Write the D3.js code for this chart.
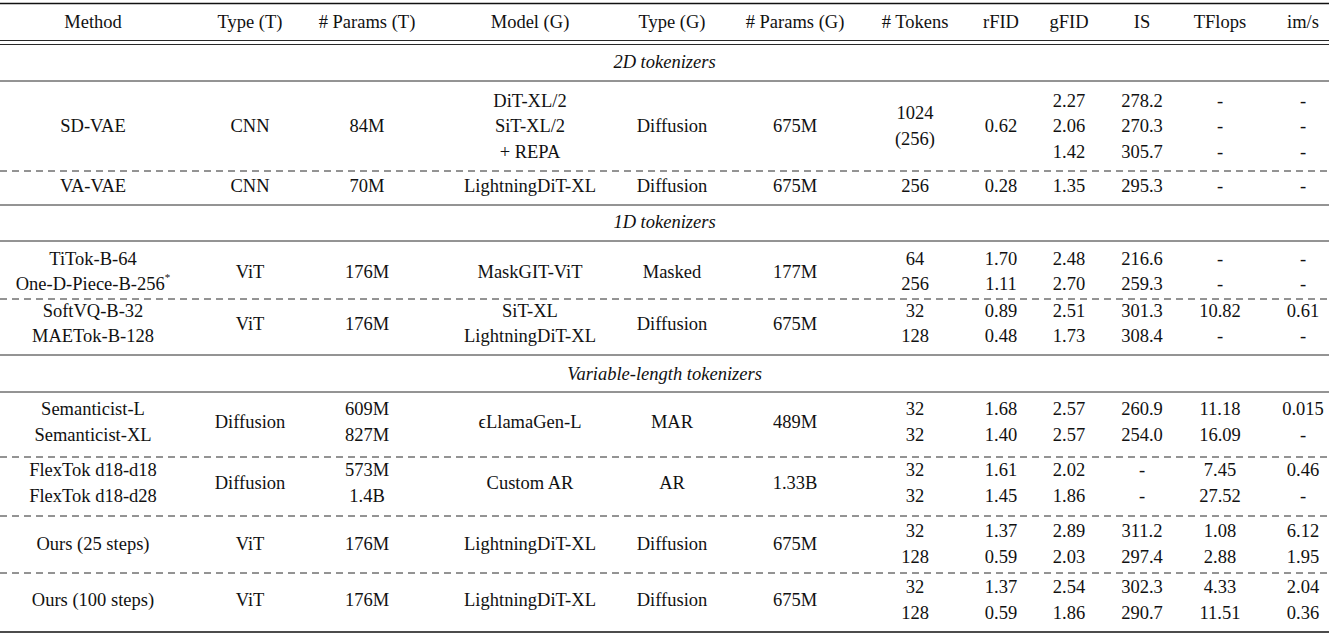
<!DOCTYPE html>
<html><head><meta charset="utf-8">
<script src="https://cdn.jsdelivr.net/npm/d3@7.9.0/dist/d3.min.js"></script>
<style>body{margin:0;background:#fff}text{font-family:"Liberation Serif","DejaVu Serif",serif;font-size:18.5px;fill:#111}</style>
</head><body><svg id="t" width="1329" height="635"></svg>
<script>
const headers = ['Method','Type (T)','# Params (T)','Model (G)','Type (G)','# Params (G)','# Tokens','rFID','gFID','IS','TFlops','im/s'];
const colX = [93,250,367,530,672,795,915,1001,1069,1142,1220,1303];

const sections = ['2D tokenizers','1D tokenizers','Variable-length tokenizers'];

// each group: one list of lines per column
const groups = [
  [['SD-VAE'],['CNN'],['84M'],['DiT-XL/2','SiT-XL/2','+ REPA'],['Diffusion'],['675M'],['1024','(256)'],['0.62'],['2.27','2.06','1.42'],['278.2','270.3','305.7'],['-','-','-'],['-','-','-']],
  [['VA-VAE'],['CNN'],['70M'],['LightningDiT-XL'],['Diffusion'],['675M'],['256'],['0.28'],['1.35'],['295.3'],['-'],['-']],
  [['TiTok-B-64','One-D-Piece-B-256*'],['ViT'],['176M'],['MaskGIT-ViT'],['Masked'],['177M'],['64','256'],['1.70','1.11'],['2.48','2.70'],['216.6','259.3'],['-','-'],['-','-']],
  [['SoftVQ-B-32','MAETok-B-128'],['ViT'],['176M'],['SiT-XL','LightningDiT-XL'],['Diffusion'],['675M'],['32','128'],['0.89','0.48'],['2.51','1.73'],['301.3','308.4'],['10.82','-'],['0.61','-']],
  [['Semanticist-L','Semanticist-XL'],['Diffusion'],['609M','827M'],['ϵLlamaGen-L'],['MAR'],['489M'],['32','32'],['1.68','1.40'],['2.57','2.57'],['260.9','254.0'],['11.18','16.09'],['0.015','-']],
  [['FlexTok d18-d18','FlexTok d18-d28'],['Diffusion'],['573M','1.4B'],['Custom AR'],['AR'],['1.33B'],['32','32'],['1.61','1.45'],['2.02','1.86'],['-','-'],['7.45','27.52'],['0.46','-']],
  [['Ours (25 steps)'],['ViT'],['176M'],['LightningDiT-XL'],['Diffusion'],['675M'],['32','128'],['1.37','0.59'],['2.89','2.03'],['311.2','297.4'],['1.08','2.88'],['6.12','1.95']],
  [['Ours (100 steps)'],['ViT'],['176M'],['LightningDiT-XL'],['Diffusion'],['675M'],['32','128'],['1.37','0.59'],['2.54','1.86'],['302.3','290.7'],['4.33','11.51'],['2.04','0.36']]
];

// layout
const groupCenter = [126,186,271.5,323.5,422,483,544,600];
const sectionY = [62,222,374];
const lineH = 25.5;
const solid = [81,205,241,355,392];
const dashed = [171,299,457,516,573];

const svg = d3.select('#t');
const W = 1329;

svg.append('line').attr('x1',0).attr('x2',W).attr('y1',3.5).attr('y2',3.5).attr('stroke','#111').attr('stroke-width',1.6);
[40.5,44.5].forEach(y => svg.append('line').attr('x1',0).attr('x2',W).attr('y1',y).attr('y2',y).attr('stroke','#111').attr('stroke-width',0.9));
solid.forEach(y => svg.append('line').attr('x1',0).attr('x2',W).attr('y1',y).attr('y2',y).attr('stroke','#111').attr('stroke-width',0.9));
dashed.forEach(y => svg.append('line').attr('x1',0).attr('x2',W).attr('y1',y).attr('y2',y).attr('stroke','#111').attr('stroke-width',0.9).attr('stroke-dasharray','7,5'));
svg.append('line').attr('x1',0).attr('x2',W).attr('y1',632).attr('y2',632).attr('stroke','#111').attr('stroke-width',1.6);

headers.forEach((h,i) => svg.append('text').attr('x',colX[i]).attr('y',22).attr('text-anchor','middle').attr('dominant-baseline','central').text(h));

sections.forEach((s,i) => svg.append('text').attr('x',W/2).attr('y',sectionY[i]).attr('text-anchor','middle')
  .attr('dominant-baseline','central').style('font-style','italic').text(s));

groups.forEach((g,gi) => {
  g.forEach((lines,ci) => {
    const y0 = groupCenter[gi] - (lines.length-1)*lineH/2;
    lines.forEach((txt,li) => {
      const t = svg.append('text').attr('x',colX[ci]).attr('y',y0+li*lineH)
        .attr('text-anchor','middle').attr('dominant-baseline','central');
      if (txt.endsWith('*')) {
        t.append('tspan').text(txt.slice(0,-1));
        t.append('tspan').attr('dy',-7).style('font-size','11px').text('*');
      } else t.text(txt);
    });
  });
});
</script></body></html>
